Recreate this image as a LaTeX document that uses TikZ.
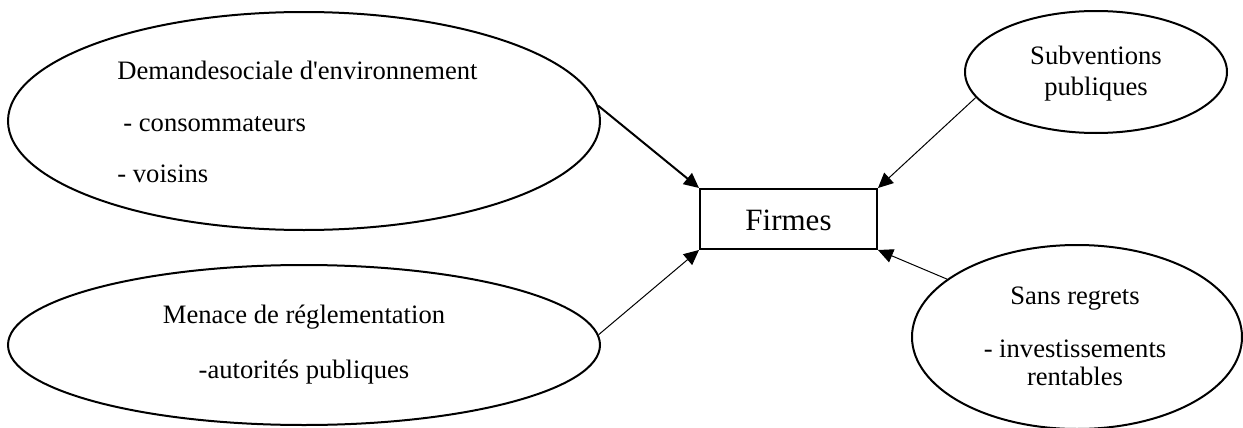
\documentclass[tikz,border=0pt]{standalone}
\usepackage{fontspec}
\setmainfont{Liberation Serif}
\usetikzlibrary{shapes.geometric,arrows.meta}
\begin{document}
\begin{tikzpicture}[x=0.5pt,y=-0.5pt,
  bubble/.style={draw,ellipse,line width=1pt,inner sep=0pt},
  firmbox/.style={draw,rectangle,line width=1pt,inner sep=0pt,
    minimum width=88.5pt,minimum height=30pt},
  lbl/.style={inner sep=0pt,font=\fontsize{13.3}{16}\selectfont},
  biglbl/.style={inner sep=0pt,font=\fontsize{15.5}{18}\selectfont},
  link/.style={-{Triangle[length=7.5pt,width=7pt]},line width=0.5pt},
  boldlink/.style={link,line width=1pt}]
\useasboundingbox (0,0) rectangle (1243,428);

% the four influences and the firm
\node[bubble,minimum width=296pt,minimum height=109pt] (dem) at (304,121) {};
\node[bubble,minimum width=296pt,minimum height=80pt] (men) at (304,345) {};
\node[bubble,minimum width=131pt,minimum height=61pt] (sub) at (1096,72) {};
\node[bubble,minimum width=165pt,minimum height=92pt] (sans) at (1077,337) {};
\node[firmbox] (firm) at (788.5,219) {};

% texts
\node[lbl,anchor=base west] (demA) at (117,79) {Demandesociale d\textquotesingle environnement};
\node[lbl,anchor=base west] (demB) at (123,131) {- consommateurs};
\node[lbl,anchor=base west] (demC) at (117,182) {- voisins};

\node[lbl,anchor=base] (menA) at (304,323) {Menace de réglementation};
\node[lbl,anchor=base] (menB) at (304,378) {-autorités publiques};

\node[lbl,anchor=base] (subA) at (1096,64) {Subventions};
\node[lbl,anchor=base] (subB) at (1096,95) {publiques};

\node[lbl,anchor=base] (sansA) at (1075,304) {Sans regrets};
\node[lbl,anchor=base] (sansB) at (1075,357) {- investissements};
\node[lbl,anchor=base] (sansC) at (1075,385) {rentables};

\node[biglbl,anchor=base] (firmT) at (788.5,230) {Firmes};

% connectors into the corners of the firm box
\draw[boldlink] (dem.3.5) -- (firm.north west);
\draw[link] (men.2.3) -- (firm.south west);
\draw[link] (sub.192.6) -- (firm.north east);
\draw[link] (sans.156.6) -- (firm.south east);
\end{tikzpicture}
\end{document}
